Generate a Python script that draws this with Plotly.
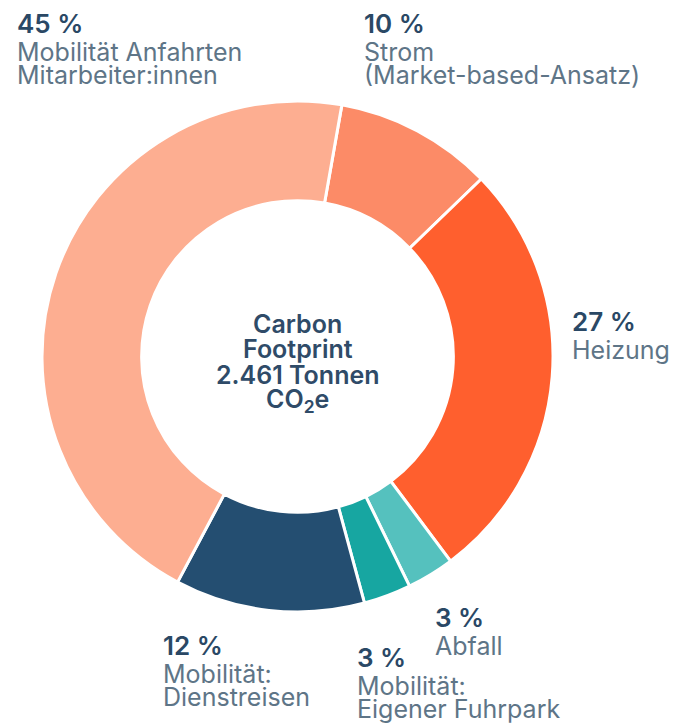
import plotly.graph_objects as go

# ---- data ----
categories = [
    "Strom|(Market-based-Ansatz)",
    "Heizung",
    "Abfall",
    "Mobilität:|Eigener Fuhrpark",
    "Mobilität:|Dienstreisen",
    "Mobilität Anfahrten|Mitarbeiter:innen",
]
shares = [10, 27, 3, 3, 12, 45]
center_lines = ["Carbon", "Footprint", "2.461 Tonnen", "CO<sub>2</sub>e"]

# ---- style ----
colors = ["#FC8B67", "#FF5F2E", "#55C1BE", "#17A6A1", "#244E71", "#FDAE91"]
pct_color = "#2A4865"
lbl_color = "#5E7587"
font_family = "Inter, Roboto, 'Noto Sans', sans-serif"

W, H = 675, 727
cx, cy, r = 297.5, 356.5, 255.5

# label anchor positions (left x, centre y of percent line) in window pixels
label_pos = [
    (364, 21),
    (572, 319),
    (435, 615),
    (357, 655),
    (163, 643),
    (17, 21),
]
first_gap = 28
line_gap = 23.3
shift = 2.5  # anchor vs cap-centre offset


def px(x):
    return (x - 2) / W


def py(y):
    return 1 - (y + shift) / H


fig = go.Figure()
fig.add_trace(go.Pie(
    values=shares,
    labels=[c.replace("|", " ") for c in categories],
    sort=False,
    direction="clockwise",
    rotation=10,
    hole=0.61,
    textinfo="none",
    hoverinfo="label+percent",
    marker=dict(colors=colors, line=dict(color="white", width=3)),
    domain=dict(x=[(cx - r) / W, (cx + r) / W], y=[1 - (cy + r) / H, 1 - (cy - r) / H]),
    showlegend=False,
))

ann = []
for cat, v, (lx, ly) in zip(categories, shares, label_pos):
    ann.append(dict(
        x=px(lx), y=py(ly), xref="paper", yref="paper",
        xanchor="left", yanchor="middle", showarrow=False,
        text=f"{v} %",
        font=dict(family=font_family, size=26, color=pct_color, weight=600),
    ))
    for i, line in enumerate(cat.split("|")):
        ann.append(dict(
            x=px(lx), y=py(ly + first_gap + i * line_gap), xref="paper", yref="paper",
            xanchor="left", yanchor="middle", showarrow=False,
            text=line,
            font=dict(family=font_family, size=25, color=lbl_color),
        ))

for i, line in enumerate(center_lines):
    ann.append(dict(
        x=cx / W, y=py(321 + i * 25.5), xref="paper", yref="paper",
        xanchor="center", yanchor="middle", showarrow=False,
        text=line,
        font=dict(family=font_family, size=25, color="#2F4B68", weight=600),
    ))

fig.update_layout(
    width=W, height=H,
    margin=dict(l=0, r=0, t=0, b=0),
    paper_bgcolor="white",
    plot_bgcolor="white",
    annotations=ann,
)

fig.write_html(
    "out.html",
    config={"displayModeBar": False},
    post_script="document.body.style.margin='0';document.body.style.overflow='hidden';",
)
